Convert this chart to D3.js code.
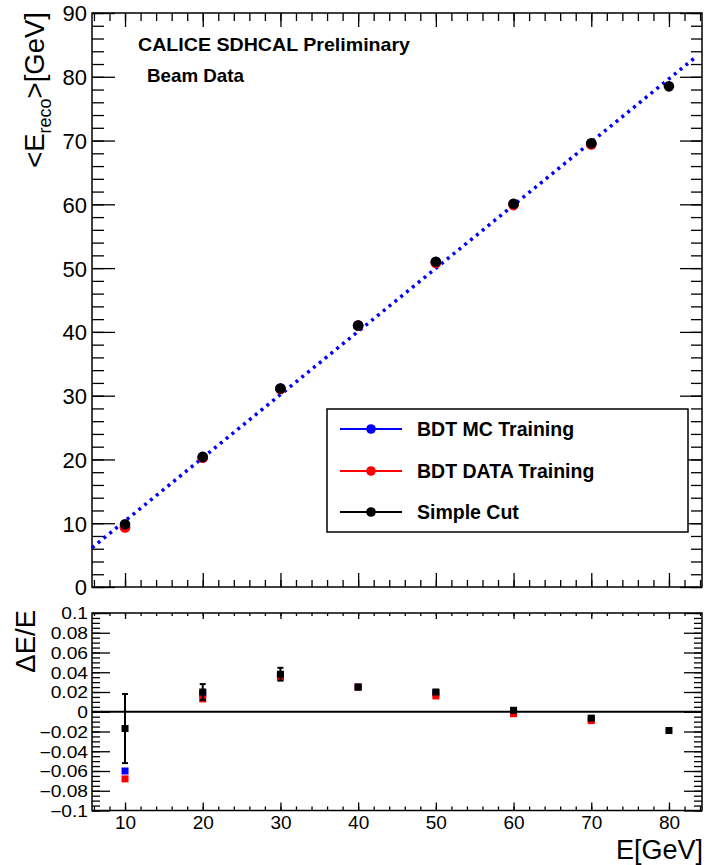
<!DOCTYPE html>
<html>
<head>
<meta charset="utf-8">
<script src="https://cdn.jsdelivr.net/npm/d3@7"></script>
<style>
  html, body { margin: 0; padding: 0; background: #fff; }
  svg { display: block; font-family: "Liberation Sans", Arial, Helvetica, sans-serif; }
</style>
</head>
<body>
<svg id="chart" width="708" height="865"></svg>
<script>
// ---------------- data ----------------
const energies = [10, 20, 30, 40, 50, 60, 70, 80];
const seriesNames = ["BDT MC Training", "BDT DATA Training", "Simple Cut"];
const seriesColors = ["#0000ff", "#ff0000", "#000000"];

// <E_reco> [GeV]
const recoMC   = [9.40, 20.36, 31.11, 41.00, 50.95, 60.06, 69.51];
const recoData = [9.32, 20.27, 31.04, 41.00, 50.80, 59.88, 69.40];
const recoCut  = [9.83, 20.40, 31.13, 41.01, 51.00, 60.09, 69.56, 78.50];
const recoCutErr = [0.35, 0.16, 0.18, 0.05, 0.05, 0.05, 0.05, 0.05];

// ΔE/E
const devMC   = [-0.060, 0.018, 0.037, 0.025, 0.019, 0.001, -0.007];
const devData = [-0.068, 0.013, 0.035, 0.025, 0.016, -0.002, -0.009];
const devCut  = [-0.017, 0.020, 0.038, 0.025, 0.020, 0.0015, -0.0065, -0.019];
const devCutErr = [0.035, 0.008, 0.0065, 0.001, 0.001, 0.001, 0.001, 0.001];

// dotted reference/fit line (endpoints)
const diagLine = [[5.75, 6.15], [83.6, 83.25]];

const xTicks = [10, 20, 30, 40, 50, 60, 70, 80];
const xMinor = d3.range(6, 85, 2);
const yTopTicks = [0, 10, 20, 30, 40, 50, 60, 70, 80, 90];
const yTopMinor = d3.range(0, 90.1, 2);
const yBotTicks = [-0.1, -0.08, -0.06, -0.04, -0.02, 0, 0.02, 0.04, 0.06, 0.08, 0.1];
const yBotMinor = d3.range(-0.1, 0.1001, 0.005);

// ---------------- layout ----------------
const L = 92, R = 702;
const topY0 = 13, topY1 = 587;
const botY0 = 613, botY1 = 810.5;

const svg = d3.select("#chart");
const x = d3.scaleLinear().domain([5.75, 84.25]).range([L, R]);
const yTop = d3.scaleLinear().domain([0, 90]).range([topY1, topY0]);
const yBot = d3.scaleLinear().domain([-0.1, 0.1]).range([botY1, botY0]);

function styleAxis(g) {
  g.select(".domain").remove();
  g.selectAll(".tick line").attr("stroke", "#000").attr("stroke-width", 1.3);
}

function fmtDev(d) {
  if (Math.abs(d) < 1e-9) return "0";
  let s = d3.format("")(+d.toFixed(2));
  return s.replace("-", "\u2212");
}

// ---------- TOP PANEL ----------
const gTop = svg.append("g");
gTop.append("g").attr("transform", `translate(${L},0)`)
  .call(d3.axisLeft(yTop).tickValues(yTopMinor).tickSizeInner(-12).tickSizeOuter(0).tickFormat(""))
  .call(styleAxis);
gTop.append("g").attr("transform", `translate(${L},0)`)
  .call(d3.axisLeft(yTop).tickValues(yTopTicks).tickSizeInner(-23).tickSizeOuter(0).tickPadding(5).tickFormat(d3.format("d")))
  .call(styleAxis)
  .call(g => g.selectAll("text").attr("font-size", 22).attr("fill", "#000").attr("dy", "0.36em"));
gTop.append("g").attr("transform", `translate(${R},0)`)
  .call(d3.axisRight(yTop).tickValues(yTopMinor).tickSizeInner(-11).tickSizeOuter(0).tickFormat(""))
  .call(styleAxis);
gTop.append("g").attr("transform", `translate(${R},0)`)
  .call(d3.axisRight(yTop).tickValues(yTopTicks).tickSizeInner(-22).tickSizeOuter(0).tickFormat(""))
  .call(styleAxis);
gTop.append("g").attr("transform", `translate(0,${topY0})`)
  .call(d3.axisTop(x).tickValues(xMinor).tickSizeInner(-8).tickSizeOuter(0).tickFormat(""))
  .call(styleAxis);
gTop.append("g").attr("transform", `translate(0,${topY0})`)
  .call(d3.axisTop(x).tickValues(xTicks).tickSizeInner(-14).tickSizeOuter(0).tickFormat(""))
  .call(styleAxis);
gTop.append("g").attr("transform", `translate(0,${topY1})`)
  .call(d3.axisBottom(x).tickValues(xMinor).tickSizeInner(-7).tickSizeOuter(0).tickFormat(""))
  .call(styleAxis);
gTop.append("g").attr("transform", `translate(0,${topY1})`)
  .call(d3.axisBottom(x).tickValues(xTicks).tickSizeInner(-14).tickSizeOuter(0).tickFormat(""))
  .call(styleAxis);
gTop.append("rect").attr("x", L).attr("y", topY0).attr("width", R - L).attr("height", topY1 - topY0)
  .attr("fill", "none").attr("stroke", "#000").attr("stroke-width", 1.5);

// dotted line
gTop.append("path")
  .attr("d", d3.line().x(d => x(d[0])).y(d => yTop(d[1]))(diagLine))
  .attr("fill", "none").attr("stroke", "#0000ff").attr("stroke-width", 3.5)
  .attr("stroke-dasharray", "3,4.5");

const topSeries = [
  { vals: recoMC, err: null, color: seriesColors[0] },
  { vals: recoData, err: null, color: seriesColors[1] },
  { vals: recoCut, err: recoCutErr, color: seriesColors[2] }
];
topSeries.forEach(s => {
  const g = gTop.append("g");
  if (s.err) {
    g.selectAll("line.err").data(s.vals).enter().append("line")
      .attr("x1", (d, i) => x(energies[i])).attr("x2", (d, i) => x(energies[i]))
      .attr("y1", (d, i) => yTop(d - s.err[i])).attr("y2", (d, i) => yTop(d + s.err[i]))
      .attr("stroke", s.color).attr("stroke-width", 1.5);
  }
  g.selectAll("circle").data(s.vals).enter().append("circle")
    .attr("cx", (d, i) => x(energies[i])).attr("cy", d => yTop(d))
    .attr("r", 5.3).attr("fill", s.color);
});

svg.append("text").attr("x", 138).attr("y", 51).attr("font-size", 19).attr("font-weight", "bold")
  .attr("textLength", 272).attr("lengthAdjust", "spacingAndGlyphs")
  .text("CALICE SDHCAL Preliminary");
svg.append("text").attr("x", 147).attr("y", 82).attr("font-size", 19).attr("font-weight", "bold")
  .attr("textLength", 97).attr("lengthAdjust", "spacingAndGlyphs")
  .text("Beam Data");

// legend
const leg = svg.append("g");
leg.append("rect").attr("x", 327).attr("y", 409).attr("width", 361).attr("height", 123)
  .attr("fill", "#fff").attr("stroke", "#000").attr("stroke-width", 1.5);
const legRows = [429, 471, 512];
seriesNames.forEach((name, i) => {
  const yy = legRows[i];
  leg.append("line").attr("x1", 340).attr("x2", 402).attr("y1", yy).attr("y2", yy)
    .attr("stroke", seriesColors[i]).attr("stroke-width", 2.2);
  leg.append("circle").attr("cx", 371).attr("cy", yy).attr("r", 4.8).attr("fill", seriesColors[i]);
  leg.append("text").attr("x", 417).attr("y", yy + 7).attr("font-size", 19.5).attr("font-weight", "bold")
    .text(name);
});

// y title top
const yt = svg.append("text").attr("transform", "translate(44,12) rotate(-90)")
  .attr("text-anchor", "end").attr("font-size", 27.5);
yt.append("tspan").text("<E");
yt.append("tspan").attr("font-size", 18).attr("dy", 7).text("reco");
yt.append("tspan").attr("dy", -7).text(">[GeV]");

// ---------- BOTTOM PANEL ----------
const gBot = svg.append("g");
gBot.append("g").attr("transform", `translate(${L},0)`)
  .call(d3.axisLeft(yBot).tickValues(yBotMinor).tickSizeInner(-8).tickSizeOuter(0).tickFormat(""))
  .call(styleAxis);
gBot.append("g").attr("transform", `translate(${L},0)`)
  .call(d3.axisLeft(yBot).tickValues(yBotTicks).tickSizeInner(-18).tickSizeOuter(0).tickPadding(4).tickFormat(fmtDev))
  .call(styleAxis)
  .call(g => g.selectAll("text")
    .attr("font-size", 16).attr("fill", "#000").attr("dy", "0.36em")
    .attr("x", -4 / 1.2).attr("transform", "scale(1.2,1)"));
gBot.append("g").attr("transform", `translate(${R},0)`)
  .call(d3.axisRight(yBot).tickValues(yBotMinor).tickSizeInner(-8).tickSizeOuter(0).tickFormat(""))
  .call(styleAxis);
gBot.append("g").attr("transform", `translate(${R},0)`)
  .call(d3.axisRight(yBot).tickValues(yBotTicks).tickSizeInner(-18).tickSizeOuter(0).tickFormat(""))
  .call(styleAxis);
gBot.append("g").attr("transform", `translate(0,${botY0})`)
  .call(d3.axisTop(x).tickValues(xMinor).tickSizeInner(-3).tickSizeOuter(0).tickFormat(""))
  .call(styleAxis);
gBot.append("g").attr("transform", `translate(0,${botY0})`)
  .call(d3.axisTop(x).tickValues(xTicks).tickSizeInner(-6).tickSizeOuter(0).tickFormat(""))
  .call(styleAxis);
gBot.append("g").attr("transform", `translate(0,${botY1})`)
  .call(d3.axisBottom(x).tickValues(xMinor).tickSizeInner(-4).tickSizeOuter(0).tickFormat(""))
  .call(styleAxis);
gBot.append("g").attr("transform", `translate(0,${botY1})`)
  .call(d3.axisBottom(x).tickValues(xTicks).tickSizeInner(-8).tickSizeOuter(0).tickPadding(4).tickFormat(d3.format("d")))
  .call(styleAxis)
  .call(g => g.selectAll("text").attr("font-size", 19).attr("fill", "#000").attr("dy", "0.75em"));
gBot.append("rect").attr("x", L).attr("y", botY0).attr("width", R - L).attr("height", botY1 - botY0)
  .attr("fill", "none").attr("stroke", "#000").attr("stroke-width", 1.5);

gBot.append("line").attr("x1", L).attr("x2", R).attr("y1", yBot(0)).attr("y2", yBot(0))
  .attr("stroke", "#000").attr("stroke-width", 2);

const botSeries = [
  { vals: devMC, err: null, color: seriesColors[0] },
  { vals: devData, err: null, color: seriesColors[1] },
  { vals: devCut, err: devCutErr, color: seriesColors[2] }
];
const sq = 7;
botSeries.forEach(s => {
  const g = gBot.append("g");
  if (s.err) {
    g.selectAll("line.err").data(s.vals).enter().append("line")
      .attr("x1", (d, i) => x(energies[i])).attr("x2", (d, i) => x(energies[i]))
      .attr("y1", (d, i) => yBot(d - s.err[i])).attr("y2", (d, i) => yBot(d + s.err[i]))
      .attr("stroke", s.color).attr("stroke-width", 2);
    [-1, 1].forEach(sign => {
      g.selectAll("line.cap" + sign).data(s.vals).enter().append("line")
        .attr("x1", (d, i) => x(energies[i]) - 3).attr("x2", (d, i) => x(energies[i]) + 3)
        .attr("y1", (d, i) => yBot(d + sign * s.err[i])).attr("y2", (d, i) => yBot(d + sign * s.err[i]))
        .attr("stroke", s.color).attr("stroke-width", 2);
    });
  }
  g.selectAll("rect").data(s.vals).enter().append("rect")
    .attr("x", (d, i) => x(energies[i]) - sq / 2).attr("y", d => yBot(d) - sq / 2)
    .attr("width", sq).attr("height", sq).attr("fill", s.color);
});

svg.append("text").attr("transform", "translate(35,610) rotate(-90)")
  .attr("text-anchor", "end").attr("font-size", 27.5).text("\u0394E/E");
svg.append("text").attr("x", 703).attr("y", 859).attr("text-anchor", "end")
  .attr("font-size", 27).text("E[GeV]");
</script>
</body>
</html>
